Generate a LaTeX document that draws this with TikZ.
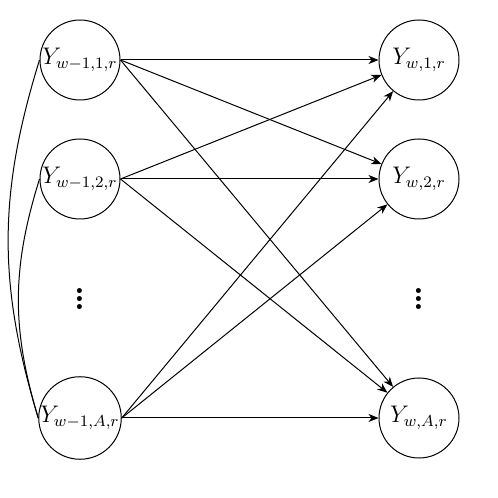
\documentclass[tikz,border=0pt]{standalone}
\usepackage{amsmath,amssymb}
\usepackage{tikz}
\usetikzlibrary{arrows.meta}

\begin{document}
\begin{tikzpicture}[x=0.5pt,y=0.5pt,line width=0.5pt,>={Stealth[length=5pt,width=4pt,inset=1.5pt]},
    state/.style={circle,draw,minimum size=40pt,inner sep=0pt,font=\large}]
  \useasboundingbox (0,0) rectangle (498,498);
  \node[state] (l1) at (80,438) {$Y_{w-1,1,r}$};
  \node[state] (l2) at (80,319) {$Y_{w-1,2,r}$};
  \node[state] (lA) at (80,80) {$Y_{w-1,A,r}$};
  \node[state] (r1) at (419,438) {$Y_{w,1,r}$};
  \node[state] (r2) at (419,319) {$Y_{w,2,r}$};
  \node[state] (rA) at (419,80) {$Y_{w,A,r}$};
  \node[font=\LARGE\bfseries] (ldots) at (80,205) {$\vdots$};
  \node[font=\LARGE\bfseries] (rdots) at (419,205) {$\vdots$};
  \foreach \a in {l1,l2,lA} {
    \foreach \b in {r1,r2,rA} {
      \draw[->] (\a.east) -- (\b);
    }
  }
  \draw (lA.west) to[bend left=17] (l1.west);
  \draw (lA.west) to[bend left=17] (l2.west);
\end{tikzpicture}
\end{document}
